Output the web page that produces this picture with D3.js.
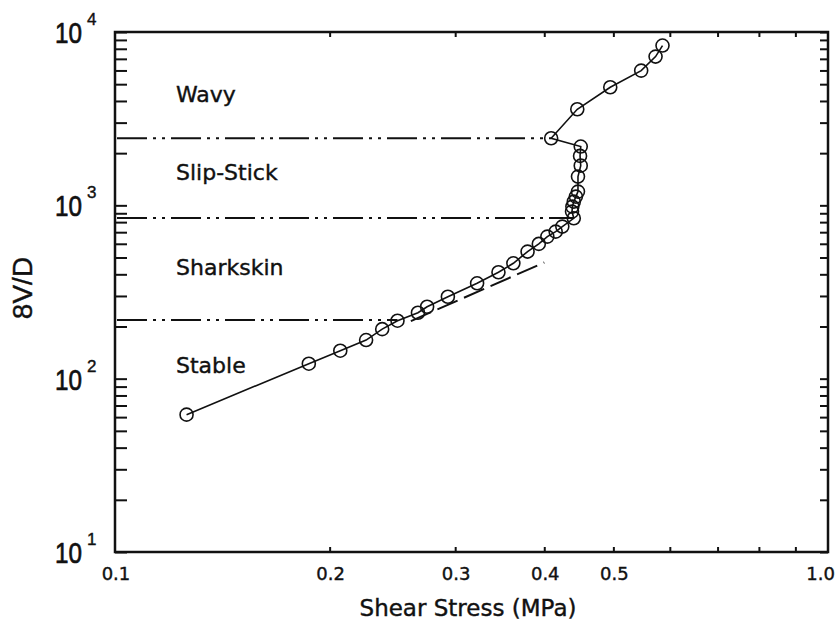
<!DOCTYPE html>
<html lang="en">
<head>
<meta charset="UTF-8">
<title>8V/D vs Shear Stress</title>
<script src="https://cdn.jsdelivr.net/npm/d3@7/dist/d3.min.js"></script>
<style>
    body { margin: 0; background: #fff; }
    svg { display: block; }
    text { fill: #111; stroke: #111; stroke-width: 0.4px; }
    .tick-label { font-family: "DejaVu Sans", sans-serif; font-size: 18px; }
    .region { font-family: "DejaVu Sans", sans-serif; font-size: 22px; }
</style>
</head>
<body>
<script>
    // measured points, in drawing order along the curve
    const shearStress = [0.126, 0.187, 0.207, 0.225, 0.237, 0.249, 0.266, 0.274, 0.293, 0.322,
        0.345, 0.362, 0.379, 0.393, 0.404, 0.415, 0.424, 0.440, 0.4375, 0.438,
        0.440, 0.443, 0.446, 0.446, 0.450, 0.449, 0.450, 0.409, 0.445, 0.495,
        0.547, 0.573, 0.586];
    const shearRate = [62, 122, 145, 167, 193, 216, 240, 260, 297, 355,
        411, 463, 541, 599, 660, 705, 754, 842, 920, 983,
        1050, 1123, 1200, 1465, 1694, 1928, 2183, 2438, 3584, 4802,
        5988, 7213, 8352];

    // regime boundaries (dash-dot lines) and regime names
    const boundaryRate = [2440, 845, 218];
    const boundaryEnd = [0.409, 0.440, 0.249];
    const regimes = ['Wavy', 'Slip-Stick', 'Sharkskin', 'Stable'];
    const regimeRate = [3950, 1400, 395, 108];

    // power-law extension (dashed)
    const fitStress = [0.26, 0.40];
    const fitRate = [215, 468];

    const xTickValues = [0.1, 0.2, 0.3, 0.4, 0.5, 1.0];
    const xTickLabels = ['0.1', '0.2', '0.3', '0.4', '0.5', '1.0'];
    const yTickValues = [10, 100, 1000, 10000];
    const yTickExps = ['1', '2', '3', '4'];

    const width = 838, height = 624;
    const m = {left: 115, right: 828, top: 32, bottom: 552};

    const svg = d3.select('body').append('svg')
        .attr('width', width)
        .attr('height', height);

    const x = d3.scaleLog().domain([0.1, 1]).range([m.left, m.right]);
    const y = d3.scaleLog().domain([10, 10000]).range([m.bottom, m.top]);

    // minor ticks
    const xMinor = d3.range(2, 10).map(d => d / 10);
    const yMinor = [];
    [10, 100, 1000].forEach(dec => {
        for (let k = 1; k < 10; k++) yMinor.push(dec * k);
    });
    yMinor.push(10000);

    svg.append('g')
        .attr('transform', `translate(0,${m.bottom})`)
        .call(d3.axisBottom(x).tickValues(xMinor).tickSize(-5).tickFormat(''));
    svg.append('g')
        .attr('transform', `translate(0,${m.top})`)
        .call(d3.axisTop(x).tickValues(xMinor).tickSize(-5).tickFormat(''));
    svg.append('g')
        .attr('transform', `translate(${m.left},0)`)
        .call(d3.axisLeft(y).tickValues(yMinor).tickSize(-12).tickFormat(''));
    svg.append('g')
        .attr('transform', `translate(${m.right},0)`)
        .call(d3.axisRight(y).tickValues(yMinor).tickSize(-8).tickFormat(''));

    svg.selectAll('.domain').remove();
    svg.selectAll('.tick line').attr('stroke', '#111').attr('stroke-width', 2);

    // frame
    svg.append('rect')
        .attr('x', m.left).attr('y', m.top)
        .attr('width', m.right - m.left).attr('height', m.bottom - m.top)
        .attr('fill', 'none')
        .attr('stroke', '#111')
        .attr('stroke-width', 2.5);

    // x tick labels (last one kept inside the page)
    svg.append('g').selectAll('text')
        .data(xTickValues)
        .enter().append('text')
        .attr('class', 'tick-label')
        .attr('x', d => d === 1 ? x(d) + 7 : x(d) + 1)
        .attr('y', m.bottom + 28)
        .attr('text-anchor', d => d === 1 ? 'end' : 'middle')
        .text((d, i) => xTickLabels[i]);

    // y tick labels: 10 with superscript
    const yl = svg.append('g').selectAll('g')
        .data(yTickValues)
        .enter().append('g');
    yl.append('text')
        .attr('x', 55)
        .attr('y', d => y(d) + 11)
        .attr('textLength', 27)
        .attr('lengthAdjust', 'spacingAndGlyphs')
        .style('font-family', '"Liberation Sans", Arial, sans-serif')
        .style('font-size', '30px')
        .style('stroke-width', '0.7px')
        .text('10');
    yl.append('text')
        .attr('x', 87)
        .attr('y', d => y(d) - 7)
        .style('font-family', '"Liberation Sans", Arial, sans-serif')
        .style('font-size', '17px')
        .text((d, i) => yTickExps[i]);

    // axis titles
    svg.append('text')
        .attr('x', 468)
        .attr('y', 616)
        .attr('text-anchor', 'middle')
        .style('font-family', '"DejaVu Sans", sans-serif')
        .style('font-size', '23px')
        .text('Shear Stress (MPa)');
    svg.append('text')
        .attr('transform', 'translate(32,288) rotate(-90)')
        .attr('text-anchor', 'middle')
        .style('font-family', '"Liberation Sans", Arial, sans-serif')
        .style('font-size', '28px')
        .text('8V/D');

    // regime boundaries
    svg.append('g').selectAll('line')
        .data(boundaryRate)
        .enter().append('line')
        .attr('x1', x(0.1) + 2)
        .attr('x2', (d, i) => x(boundaryEnd[i]))
        .attr('y1', d => y(d))
        .attr('y2', d => y(d))
        .attr('stroke', '#111')
        .attr('stroke-width', 2)
        .attr('stroke-dasharray', '30,6,3,6,3,6');

    // regime labels
    svg.append('g').selectAll('text')
        .data(regimes)
        .enter().append('text')
        .attr('class', 'region')
        .attr('x', 176)
        .attr('y', (d, i) => y(regimeRate[i]))
        .text(d => d);

    // dashed power-law line
    const pts = shearStress.map((s, i) => [s, shearRate[i]]);
    const line = d3.line().x(d => x(d[0])).y(d => y(d[1]));

    svg.append('path')
        .datum(fitStress.map((s, i) => [s, fitRate[i]]))
        .attr('d', line)
        .attr('fill', 'none')
        .attr('stroke', '#111')
        .attr('stroke-width', 2)
        .attr('stroke-dasharray', '22,7');

    // data curve
    svg.append('path')
        .datum(pts)
        .attr('d', line)
        .attr('fill', 'none')
        .attr('stroke', '#111')
        .attr('stroke-width', 1.6);

    svg.append('g').selectAll('circle')
        .data(pts)
        .enter().append('circle')
        .attr('cx', d => x(d[0]))
        .attr('cy', d => y(d[1]))
        .attr('r', 6.5)
        .attr('fill', 'none')
        .attr('stroke', '#111')
        .attr('stroke-width', 1.6);
</script>
</body>
</html>
